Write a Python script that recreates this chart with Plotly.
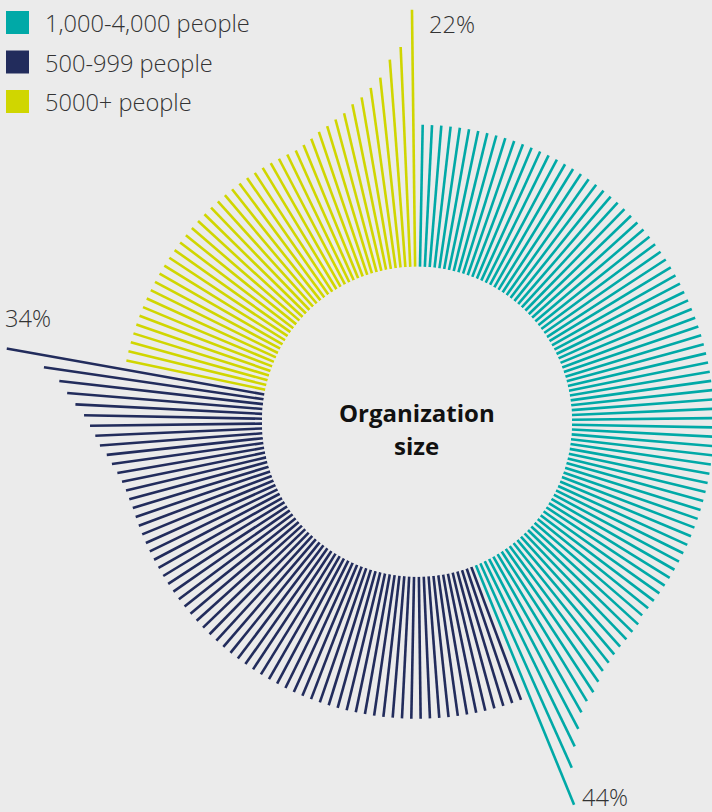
import plotly.graph_objects as go

# ---- data ----
categories = ["1,000-4,000 people", "500-999 people", "5000+ people"]
shares = [44, 34, 22]                      # percent of respondents
colors = ["#00a9a7", "#222c5c", "#d0d600"]
pct_labels = ["44%", "34%", "22%"]
lines_per_percent = 2                      # each spoke = 0.5 %

# spoke lengths (beyond the inner ring): constant part + rising tail at end of each segment
base_length = [142, 142, 142]
teal_tail = [145, 146, 147, 148, 150, 153, 156, 162, 168, 172, 179, 192, 206, 224, 259]
navy_tail = [143, 144, 146, 149, 153, 157, 163, 167, 172, 178, 187, 196, 205, 222, 262]
yellow_tail = [142, 144, 147, 151, 154, 158, 162, 169, 174, 182, 191, 208, 220, 257]
tails = [teal_tail, navy_tail, yellow_tail]

center_title = ["Organization", "size"]

# ---- geometry ----
VW, VH = 712, 812              # visible window
cx, cy = 417.0, 421.7          # ring centre in px (from top-left of window)
R = 417.0                      # polar radius in px (big enough for the longest spoke)
inner = 155.0                  # inner ring radius in px
W = int(cx + R) + 1            # figure is larger than the window; the overflow is hidden
H = int(cy + R) + 1

total_lines = sum(s * lines_per_percent for s in shares)
step = 360.0 / total_lines

fig = go.Figure()
idx = 0
for cat, share, col, base, tail in zip(categories, shares, colors, base_length, tails):
    n = share * lines_per_percent
    lengths = [base] * (n - len(tail)) + list(tail)
    rr, tt = [], []
    for L in lengths:
        th = (idx + 0.5) * step
        rr += [0, L, None]
        tt += [th, th, None]
        idx += 1
    fig.add_trace(go.Scatterpolar(
        r=rr, theta=tt, mode="lines", name=cat,
        line=dict(color=col, width=2.6),
        cliponaxis=False, hoverinfo="skip", showlegend=False,
    ))

fig.update_layout(
    width=W, height=H,
    margin=dict(l=0, r=0, t=0, b=0),
    paper_bgcolor="#ebebeb", plot_bgcolor="#ebebeb",
    showlegend=False,
    polar=dict(
        domain=dict(x=[(cx - R) / W, (cx + R) / W],
                    y=[(H - cy - R) / H, (H - cy + R) / H]),
        hole=inner / R,
        bgcolor="rgba(0,0,0,0)",
        radialaxis=dict(visible=False, range=[0, R - inner]),
        angularaxis=dict(visible=False, direction="clockwise", rotation=89.8,
                         thetaunit="degrees"),
    ),
)


def px(x):
    return x / W


def py(y):
    return 1 - y / H


txt_font = dict(family="Open Sans", size=23.6, color="#333333", weight=300)

shapes = []
annotations = []
# legend: coloured squares + labels
for i, (cat, col) in enumerate(zip(categories, colors)):
    top = 11 + i * 39.5
    shapes.append(dict(type="rect", xref="paper", yref="paper",
                       x0=px(6), x1=px(29), y0=py(top + 23), y1=py(top),
                       fillcolor=col, line=dict(width=0)))
    annotations.append(dict(text=cat, xref="paper", yref="paper",
                            x=px(43), y=py(top + 12), xanchor="left", yanchor="middle",
                            showarrow=False, font=txt_font))

# percentage labels
pct_pos = [(580, 797), (3, 318), (427, 23.5)]
for lab, (x, y) in zip(pct_labels, pct_pos):
    annotations.append(dict(text=lab, xref="paper", yref="paper", x=px(x), y=py(y),
                            xanchor="left", yanchor="middle", showarrow=False, font=txt_font))

# centre title
for t, y in zip(center_title, [413, 445]):
    annotations.append(dict(text="<b>" + t + "</b>", xref="paper", yref="paper",
                            x=px(416.5), y=py(y), xanchor="center", yanchor="middle",
                            showarrow=False,
                            font=dict(family="Open Sans", size=24, color="#111111")))

fig.update_layout(shapes=shapes, annotations=annotations)

post = (
    "document.documentElement.style.margin='0';"
    "document.documentElement.style.overflow='hidden';"
    "document.body.style.margin='0';"
    "document.body.style.padding='0';"
    "document.body.style.overflow='hidden';"
    "var gd=document.getElementById('{plot_id}');"
    "gd.style.width='%dpx';gd.style.height='%dpx';gd.style.overflow='hidden';" % (VW, VH)
)

fig.write_html("out.html", config={"displayModeBar": False, "staticPlot": True},
               post_script=post)
